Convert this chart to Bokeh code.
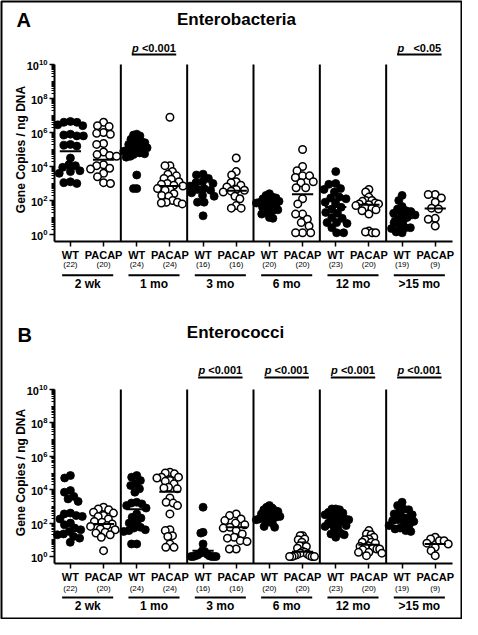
import numpy as np
from bokeh.plotting import figure
from bokeh.models import Range1d, LogScale, LinearAxis, LogAxis, FixedTicker
from bokeh.embed import file_html
from bokeh.resources import INLINE
from bokeh.core.properties import value

# ---------------- data ----------------
ages = ["2 wk", "1 mo", "3 mo", "6 mo", "12 mo", ">15 mo"]
genotypes = ["WT", "PACAP"]
n_wt = [22, 24, 16, 20, 23, 19]
n_pacap = [20, 24, 16, 20, 20, 9]
y_tick_values = [1e0, 1e2, 1e4, 1e6, 1e8, 1e10]
y_label = "Gene Copies / ng DNA"
panel_titles = ["Enterobacteria", "Enterococci"]
panel_letters = ["A", "B"]

# values are log10(gene copies / ng DNA)
entb_wt = [
    [6.65, 6.6, 6.6, 6.45, 6.4, 5.9, 5.85, 5.8, 5.8, 5.3, 5.25, 5.2, 4.5, 4.1, 4.05, 3.95, 3.75, 3.7, 3.6, 3.1, 3.05, 3.0],
    [5.9, 5.85, 5.8, 5.6, 5.5, 5.45, 5.4, 5.3, 5.2, 5.15, 5.1, 5.05, 5.0, 4.95, 4.9, 4.85, 4.8, 4.75, 4.7, 4.6, 4.55, 3.5, 2.7, 2.7],
    [3.55, 3.5, 3.3, 3.1, 3.05, 3.0, 2.85, 2.7, 2.65, 2.6, 2.45, 2.3, 2.25, 1.9, 1.9, 1.1],
    [2.4, 2.3, 2.2, 2.15, 2.1, 2.0, 1.95, 1.9, 1.85, 1.8, 1.75, 1.7, 1.6, 1.5, 1.45, 1.4, 1.3, 1.2, 1.0, 0.95],
    [3.7, 3.0, 2.95, 2.7, 2.65, 2.5, 2.2, 2.15, 2.1, 1.9, 1.85, 1.6, 1.5, 1.3, 1.25, 1.0, 0.95, 0.7, 0.7, 0.65, 0.4, 0.1, 0.1],
    [2.3, 2.0, 1.65, 1.5, 1.4, 1.35, 1.25, 1.2, 1.15, 1.0, 0.9, 0.75, 0.7, 0.45, 0.4, 0.4, 0.35, 0.15, 0.1],
]
entb_pacap = [
    [6.6, 6.4, 6.35, 6.0, 5.95, 5.9, 5.35, 5.3, 4.85, 4.7, 4.65, 4.6, 4.1, 4.05, 3.9, 3.85, 3.6, 3.4, 3.05, 3.0],
    [6.9, 4.05, 4.05, 3.7, 3.55, 3.45, 3.3, 3.25, 3.1, 3.0, 2.95, 2.9, 2.85, 2.7, 2.65, 2.6, 2.4, 2.3, 2.25, 2.0, 1.9, 1.9, 1.85, 1.8],
    [4.5, 3.7, 3.5, 3.1, 3.05, 2.9, 2.8, 2.65, 2.6, 2.55, 2.5, 2.25, 2.1, 1.7, 1.55, 1.55],
    [5.0, 4.0, 3.75, 3.45, 3.45, 3.35, 3.1, 3.05, 2.75, 2.75, 2.1, 1.8, 1.2, 1.2, 0.9, 0.7, 0.5, 0.1, 0.1, 0.1],
    [2.65, 2.5, 2.2, 2.0, 2.0, 1.95, 1.85, 1.8, 1.8, 1.75, 1.7, 1.6, 1.55, 1.45, 1.4, 1.2, 0.2, 0.15, 0.1, 0.1],
    [2.35, 2.35, 2.15, 1.9, 1.55, 1.5, 0.95, 0.9, 0.5],
]
entb_wt_mean = [4.9, 4.92, 2.62, 1.7, 1.62, 0.95]
entb_pacap_mean = [4.4, 2.86, 2.57, 2.37, 1.75, 1.53]
entb_p = [None, "<0.001", None, None, None, "<0.05"]

entc_wt = [
    [4.85, 4.7, 3.95, 3.85, 3.6, 3.45, 3.3, 2.6, 2.55, 2.45, 2.4, 2.25, 2.0, 1.9, 1.7, 1.6, 1.5, 1.35, 1.3, 1.2, 1.1, 0.85],
    [4.85, 4.75, 4.55, 4.35, 4.25, 4.05, 3.85, 3.25, 3.2, 3.15, 3.05, 2.9, 2.55, 2.35, 2.3, 2.05, 2.0, 1.75, 1.7, 1.55, 1.5, 1.6, 0.75, 0.75],
    [2.95, 1.45, 1.4, 0.75, 0.35, 0.3, 0.2, 0.15, 0.1, 0.05, 0.05, 0.0, 0.0, 0.0, 0.0, 0.0],
    [3.05, 2.95, 2.9, 2.8, 2.75, 2.7, 2.6, 2.55, 2.5, 2.45, 2.4, 2.35, 2.3, 2.25, 2.2, 2.1, 2.05, 2.0, 1.8, 1.75],
    [2.85, 2.85, 2.8, 2.65, 2.6, 2.5, 2.45, 2.4, 2.3, 2.25, 2.2, 2.1, 2.05, 2.0, 1.9, 1.85, 1.8, 1.7, 1.55, 1.4, 1.35, 1.3, 1.15],
    [3.25, 3.05, 2.85, 2.8, 2.65, 2.55, 2.5, 2.35, 2.3, 2.2, 2.15, 2.1, 1.95, 1.9, 1.85, 1.7, 1.65, 1.55, 1.5],
]
entc_pacap = [
    [2.95, 2.85, 2.8, 2.65, 2.6, 2.45, 2.4, 2.25, 2.1, 2.05, 1.95, 1.85, 1.8, 1.65, 1.6, 1.45, 1.4, 1.3, 1.15, 0.35],
    [5.05, 5.0, 4.95, 4.75, 4.75, 4.7, 4.55, 4.5, 4.35, 4.15, 4.1, 4.05, 3.5, 3.25, 3.2, 3.05, 2.55, 1.6, 1.55, 1.25, 1.2, 0.75, 0.55, 0.55],
    [2.55, 2.45, 2.25, 2.15, 2.0, 1.9, 1.75, 1.7, 1.55, 1.35, 1.15, 1.1, 0.95, 0.9, 0.45, 0.45],
    [1.25, 1.25, 1.05, 1.0, 0.85, 0.65, 0.65, 0.6, 0.5, 0.3, 0.25, 0.2, 0.15, 0.1, 0.05, 0.05, 0.0, 0.0, 0.0, 0.0],
    [1.55, 1.35, 1.3, 1.15, 1.05, 1.0, 0.85, 0.85, 0.8, 0.65, 0.6, 0.55, 0.5, 0.45, 0.45, 0.4, 0.25, 0.25, 0.2, 0.05],
    [1.15, 1.05, 0.95, 0.95, 0.8, 0.75, 0.55, 0.35, 0.05],
]
entc_wt_mean = [2.47, 2.83, 0.34, 2.4, 2.1, 2.3]
entc_pacap_mean = [1.94, 3.87, 1.75, 0.28, 0.7, 0.75]
entc_p = [None, None, "<0.001", "<0.001", "<0.001", "<0.001"]

for grp, ns in ((entb_wt, n_wt), (entb_pacap, n_pacap), (entc_wt, n_wt), (entc_pacap, n_pacap)):
    assert [len(v) for v in grp] == ns

# ---------------- layout (pixel positions on the page) ----------------
FONT = value("Liberation Sans")
W, H = 462, 619
PAGE, MB = 8, 1
F_L, F_T, F_R, F_B = PAGE + MB, PAGE + MB, PAGE + W - MB, PAGE + H - MB
AX_L, AX_R = 62.0, 460.0
NG = len(ages)
PXU = (AX_R - AX_L) / NG
OFF = {"WT": 0.24, "PACAP": 0.74}
SPREAD = 13.0  # max half width of a point cloud, px


def xd(px):
    return (px - AX_L) / PXU


panels = [
    dict(name="default", zero=242.0, dec=17.0, axis=249.0, letter=(24, 27), title=(244, 26.5),
         ptext=55.5, pbar=62.0, ylab=(28, 157), counts=271.5, bars=282.7, ages=291.0),
    dict(name="B", zero=564.0, dec=16.7, axis=571.0, letter=(25, 342.5), title=(243, 339.5),
         ptext=377.0, pbar=385.0, ylab=(28, 480), counts=595.5, bars=605.0, ages=613.5),
]


def make_yd(cfg):
    return lambda px: 10 ** ((cfg["zero"] - px) / cfg["dec"])


def swarm(vals, dec_px, diam=7.0):
    ys = np.asarray(vals, float) * dec_px
    offs = np.zeros(len(ys))
    placed = []
    for i in np.argsort(-ys, kind="stable"):
        y = ys[i]
        forb, cands = [], [0.0]
        for qx, qy in placed:
            dy = abs(y - qy)
            if dy < diam:
                dx = (diam ** 2 - dy ** 2) ** 0.5
                forb.append((qx - dx, qx + dx))
                cands.extend([qx - dx, qx + dx])
        cands.sort(key=lambda c: (abs(c), c))
        for c in cands:
            if all(not (a + 1e-6 < c < b - 1e-6) for a, b in forb):
                offs[i] = c
                break
        placed.append((offs[i], y))
    m = np.abs(offs).max()
    if m > SPREAD:
        offs = offs * SPREAD / m
    return offs


yA, yB = make_yd(panels[0]), make_yd(panels[1])
p = figure(width=W, height=H, x_range=Range1d(xd(F_L), xd(F_R)),
           y_range=Range1d(yA(F_B), yA(F_T)), x_axis_type=None, y_axis_type=None,
           title=None, toolbar_location=None, output_backend="svg", min_border=MB)
p.y_scale = LogScale()
p.extra_y_ranges = {"B": Range1d(yB(F_B), yB(F_T))}
p.extra_y_scales = {"B": LogScale()}
p.outline_line_color = "black"
p.outline_line_width = 2
p.background_fill_color = "white"
p.border_fill_color = "white"

y_minor = [m * 10.0 ** k for k in range(0, 10) for m in range(1, 10)
           if not (m == 1 and k % 2 == 0)]
cat_pos = [g + OFF[gt] for g in range(NG) for gt in genotypes]
cat_lab = {g + OFF[gt]: gt for g in range(NG) for gt in genotypes}

datasets = [
    (entb_wt, entb_pacap, entb_wt_mean, entb_pacap_mean, entb_p),
    (entc_wt, entc_pacap, entc_wt_mean, entc_pacap_mean, entc_p),
]
TXT = dict(text_font=FONT, text_color="black", text_baseline="middle")

for k, cfg in enumerate(panels):
    wt, pac, wt_c, pac_c, pv = datasets[k]
    rn = cfg["name"]
    yd = make_yd(cfg)
    y_lo, y_hi = yd(cfg["axis"]), y_tick_values[-1]

    yax = LogAxis(y_range_name=rn, fixed_location=0, bounds=(y_lo, y_hi),
                  ticker=FixedTicker(ticks=y_tick_values, minor_ticks=y_minor))
    yax.axis_line_width = 2
    yax.axis_line_color = "black"
    yax.major_tick_in, yax.major_tick_out, yax.major_tick_line_width = 0, 5, 1.5
    yax.minor_tick_in, yax.minor_tick_out, yax.minor_tick_line_width = 0, 3, 1
    yax.major_tick_line_color = "black"
    yax.minor_tick_line_color = "black"
    yax.major_label_text_font = "Liberation Sans"
    yax.major_label_text_font_style = "bold"
    yax.major_label_text_font_size = "11px"
    yax.major_label_text_color = "black"
    yax.major_label_standoff = 2
    p.add_layout(yax, "left")

    xax = LinearAxis(y_range_name=rn, fixed_location=y_lo, bounds=(0, NG),
                     ticker=FixedTicker(ticks=cat_pos, minor_ticks=[]),
                     major_label_overrides=cat_lab)
    xax.axis_line_width = 2
    xax.axis_line_color = "black"
    xax.major_tick_in, xax.major_tick_out, xax.major_tick_line_width = 0, 5, 1.5
    xax.major_tick_line_color = "black"
    xax.minor_tick_line_color = None
    xax.major_label_text_font = "Liberation Sans"
    xax.major_label_text_font_style = "bold"
    xax.major_label_text_font_size = "11px"
    xax.major_label_text_color = "black"
    xax.major_label_standoff = 2
    p.add_layout(xax, "below")

    # group separators
    seps = list(range(1, NG))
    p.segment(x0=seps, x1=seps, y0=[y_lo] * len(seps), y1=[y_hi] * len(seps),
              y_range_name=rn, line_color="black", line_width=2)

    # data points and mean lines
    for g in range(NG):
        for gt, vals, cen in (("WT", wt[g], wt_c[g]), ("PACAP", pac[g], pac_c[g])):
            xs = g + OFF[gt] + swarm(vals, cfg["dec"]) / PXU
            ys = np.power(10.0, vals)
            if gt == "WT":
                p.scatter(xs, ys, size=8, marker="circle", fill_color="black",
                          line_color="black", line_width=0.8, y_range_name=rn)
            else:
                p.scatter(xs, ys, size=7.5, marker="circle", fill_color="white",
                          line_color="black", line_width=1.5, y_range_name=rn)
            c = g + OFF[gt]
            p.segment(x0=[c - 0.16], x1=[c + 0.16], y0=[10 ** cen], y1=[10 ** cen],
                      y_range_name=rn, line_color="black", line_width=2)

    # sample sizes, age bars and age labels
    counts_x = [g + OFF[gt] for g in range(NG) for gt in genotypes]
    counts_t = [f"({n})" for g in range(NG) for n in (n_wt[g], n_pacap[g])]
    p.text(x=counts_x, y=[yd(cfg["counts"])] * len(counts_x), text=counts_t,
           text_font_size="8px", text_align="center", y_range_name=rn, **TXT)
    mids = [g + 0.5 for g in range(NG)]
    p.segment(x0=[m - 0.385 for m in mids], x1=[m + 0.385 for m in mids],
              y0=[yd(cfg["bars"])] * NG, y1=[yd(cfg["bars"])] * NG,
              y_range_name=rn, line_color="black", line_width=2)
    p.text(x=mids, y=[yd(cfg["ages"])] * NG, text=ages, text_font_size="12px",
           text_font_style="bold", text_align="center", y_range_name=rn, **TXT)

    # significance labels
    sig = [g for g in range(NG) if pv[g] is not None]
    p.text(x=[g + 0.5 - 0.33 for g in sig], y=[yd(cfg["ptext"])] * len(sig),
           text=["p"] * len(sig), text_font_size="11px", text_font_style="bold italic",
           text_align="left", y_range_name=rn, **TXT)
    p.text(x=[g + 0.5 + 0.33 for g in sig], y=[yd(cfg["ptext"])] * len(sig),
           text=[pv[g] for g in sig], text_font_size="11px", text_font_style="bold",
           text_align="right", y_range_name=rn, **TXT)
    p.segment(x0=[g + 0.5 - 0.335 for g in sig], x1=[g + 0.5 + 0.335 for g in sig],
              y0=[yd(cfg["pbar"])] * len(sig), y1=[yd(cfg["pbar"])] * len(sig),
              y_range_name=rn, line_color="black", line_width=2)

    # panel letter, title and y-axis label
    lx, ly = cfg["letter"]
    p.text(x=[xd(lx)], y=[yd(ly)], text=[panel_letters[k]], text_font_size="20px",
           text_font_style="bold", text_align="left", y_range_name=rn, **TXT)
    tx, ty = cfg["title"]
    p.text(x=[xd(tx)], y=[yd(ty)], text=[panel_titles[k]], text_font_size="17px",
           text_font_style="bold", text_align="center", y_range_name=rn, **TXT)
    ax_, ay_ = cfg["ylab"]
    p.text(x=[xd(ax_)], y=[yd(ay_)], text=[y_label], angle=np.pi / 2,
           text_font_size="12px", text_font_style="bold", text_align="center",
           y_range_name=rn, **TXT)

open("out.html", "w").write(file_html(p, INLINE))
